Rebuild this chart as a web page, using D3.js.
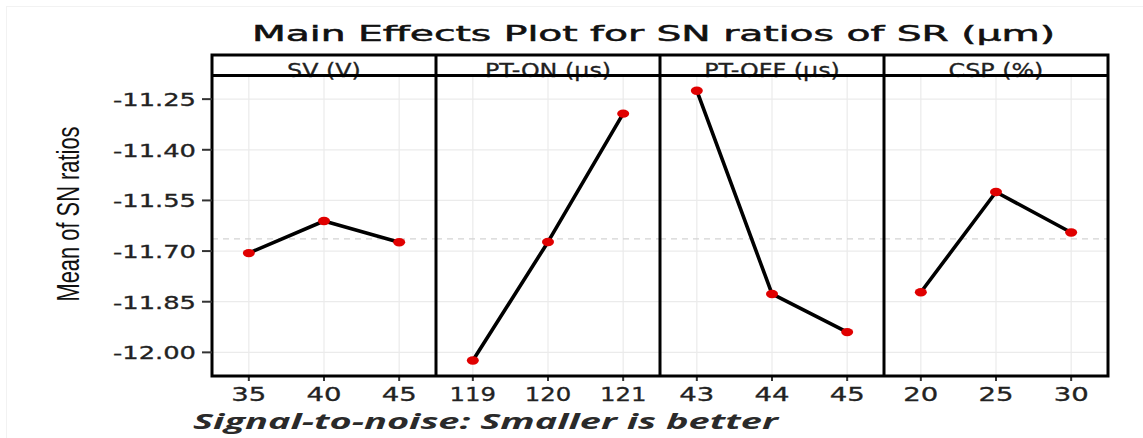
<!DOCTYPE html>
<html>
<head>
<meta charset="utf-8">
<script src="https://cdn.jsdelivr.net/npm/d3@7"></script>
<style>
  html, body { margin: 0; padding: 0; background: #fff; }
  svg { display: block; }
</style>
</head>
<body>
<svg id="chart" width="1143" height="438"></svg>
<script>
// ---- data ----
const factors = ["SV (V)", "PT-ON (μs)", "PT-OFF (μs)", "CSP (%)"];
const svLevels = ["35", "40", "45"];
const ptOnLevels = ["119", "120", "121"];
const ptOffLevels = ["43", "44", "45"];
const cspLevels = ["20", "25", "30"];
const svValues = [-11.706, -11.611, -11.674];
const ptOnValues = [-12.024, -11.673, -11.293];
const ptOffValues = [-11.225, -11.827, -11.940];
const cspValues = [-11.822, -11.525, -11.645];
const yTicks = [-12.00, -11.85, -11.70, -11.55, -11.40, -11.25];
const yTickLabels = ["-12.00", "-11.85", "-11.70", "-11.55", "-11.40", "-11.25"];
const titleText = "Main Effects Plot for SN ratios of SR (μm)";
const yTitle = "Mean of SN ratios";
const captionText = "Signal-to-noise: Smaller is better";

const levelSets = [svLevels, ptOnLevels, ptOffLevels, cspLevels];
const valueSets = [svValues, ptOnValues, ptOffValues, cspValues];

// ---- layout ----
const left = 212, right = 1108, stripTop = 55, stripBottom = 75.5, bottom = 376;
const panelW = (right - left) / factors.length;
const svg = d3.select("#chart");

const y = d3.scaleLinear().domain([-12.07, -11.18]).range([bottom, stripBottom]);
const panelScale = d3.scaleBand().domain(factors).range([left, right]).padding(0);

const allVals = valueSets.flat();
const grandMean = d3.mean(allVals);

// faint outer frame of the figure
svg.append("rect")
  .attr("x", 6.5).attr("y", 6.5).attr("width", 1150).attr("height", 440)
  .attr("fill", "none").attr("stroke", "#f2f2f2").attr("stroke-width", 1);

// title
svg.append("text")
  .attr("x", (252 + 1055) / 2).attr("y", 41)
  .attr("text-anchor", "middle")
  .attr("font-family", "DejaVu Sans, Verdana, sans-serif")
  .attr("font-size", 21)
  .attr("fill", "#111").attr("stroke", "#111").attr("stroke-width", 0.5)
  .attr("textLength", 803).attr("lengthAdjust", "spacingAndGlyphs")
  .text(titleText);

// panels
factors.forEach((f, i) => {
  const x0 = panelScale(f);
  const g = svg.append("g");
  const x = d3.scalePoint().domain(levelSets[i]).range([x0, x0 + panelW]).padding(0.49);

  // grid
  g.selectAll("line.hg").data(yTicks).join("line")
    .attr("x1", x0).attr("x2", x0 + panelW)
    .attr("y1", d => y(d)).attr("y2", d => y(d))
    .attr("stroke", "#ebebeb").attr("stroke-width", 1.2);
  g.selectAll("line.vg").data(levelSets[i]).join("line")
    .attr("x1", d => x(d)).attr("x2", d => x(d))
    .attr("y1", stripBottom).attr("y2", bottom)
    .attr("stroke", "#ebebeb").attr("stroke-width", 1.2);

  // mean reference line
  g.append("line")
    .attr("x1", x0).attr("x2", x0 + panelW)
    .attr("y1", y(grandMean)).attr("y2", y(grandMean))
    .attr("stroke", "#d4d4d4").attr("stroke-width", 1.3)
    .attr("stroke-dasharray", "6,5");

  // line + points
  const pts = levelSets[i].map((l, k) => ({ l, v: valueSets[i][k] }));
  g.append("path")
    .datum(pts)
    .attr("fill", "none").attr("stroke", "#000").attr("stroke-width", 3.6)
    .attr("stroke-linejoin", "round")
    .attr("d", d3.line().x(d => x(d.l)).y(d => y(d.v)));
  g.selectAll("ellipse").data(pts).join("ellipse")
    .attr("cx", d => x(d.l)).attr("cy", d => y(d.v))
    .attr("rx", 6).attr("ry", 4.2).attr("fill", "#e00000");

  // strip label
  g.append("text")
    .attr("x", x0 + panelW / 2).attr("y", 76.5)
    .attr("text-anchor", "middle")
    .attr("font-family", "DejaVu Sans, Verdana, sans-serif")
    .attr("font-size", 19.5).attr("fill", "#222")
    .attr("stroke", "#222").attr("stroke-width", 0.3)
    .text(f)
    .each(function () {
      const w = this.getComputedTextLength();
      d3.select(this).attr("textLength", w * 1.22).attr("lengthAdjust", "spacingAndGlyphs");
    });

  // x axis ticks + labels
  g.selectAll("line.xt").data(levelSets[i]).join("line")
    .attr("x1", d => x(d)).attr("x2", d => x(d))
    .attr("y1", bottom).attr("y2", bottom + 5)
    .attr("stroke", "#333").attr("stroke-width", 2);
  g.selectAll("text.xl").data(levelSets[i]).join("text")
    .attr("x", d => x(d)).attr("y", 401)
    .attr("text-anchor", "middle")
    .attr("font-family", "DejaVu Sans, Verdana, sans-serif")
    .attr("font-size", 19.5).attr("fill", "#222")
    .attr("stroke", "#222").attr("stroke-width", 0.3)
    .attr("textLength", d => 12 + 11.5 * d.length)
    .attr("lengthAdjust", "spacingAndGlyphs")
    .text(d => d);
});

// frames
svg.append("rect")
  .attr("x", left).attr("y", stripTop)
  .attr("width", right - left).attr("height", bottom - stripTop)
  .attr("fill", "none").attr("stroke", "#000").attr("stroke-width", 3);
svg.append("line")
  .attr("x1", left).attr("x2", right).attr("y1", stripBottom).attr("y2", stripBottom)
  .attr("stroke", "#000").attr("stroke-width", 3);
svg.selectAll("line.div").data(factors.slice(1)).join("line")
  .attr("x1", d => panelScale(d)).attr("x2", d => panelScale(d))
  .attr("y1", stripTop).attr("y2", bottom)
  .attr("stroke", "#000").attr("stroke-width", 3);

// y axis
svg.selectAll("line.yt").data(yTicks).join("line")
  .attr("x1", left - 10).attr("x2", left)
  .attr("y1", d => y(d)).attr("y2", d => y(d))
  .attr("stroke", "#333").attr("stroke-width", 2);
svg.selectAll("text.yl").data(yTicks).join("text")
  .attr("x", 196).attr("y", d => y(d) + 7)
  .attr("text-anchor", "end")
  .attr("font-family", "DejaVu Sans, Verdana, sans-serif")
  .attr("font-size", 17).attr("fill", "#222")
  .attr("stroke", "#222").attr("stroke-width", 0.3)
  .attr("textLength", 83).attr("lengthAdjust", "spacingAndGlyphs")
  .text((d, i) => yTickLabels[i]);

// y title
svg.append("text")
  .attr("transform", "translate(79,214) rotate(-90)")
  .attr("text-anchor", "middle")
  .attr("font-family", "Liberation Sans, Arial, sans-serif")
  .attr("font-size", 32).attr("fill", "#111")
  .attr("textLength", 175).attr("lengthAdjust", "spacingAndGlyphs")
  .text(yTitle);

// caption
svg.append("text")
  .attr("x", 193).attr("y", 429)
  .attr("font-family", "Open Sans, sans-serif")
  .attr("font-size", 21).attr("font-weight", "bold").attr("font-style", "italic")
  .attr("fill", "#2a2a2a")
  .attr("textLength", 585).attr("lengthAdjust", "spacingAndGlyphs")
  .text(captionText);
</script>
</body>
</html>
